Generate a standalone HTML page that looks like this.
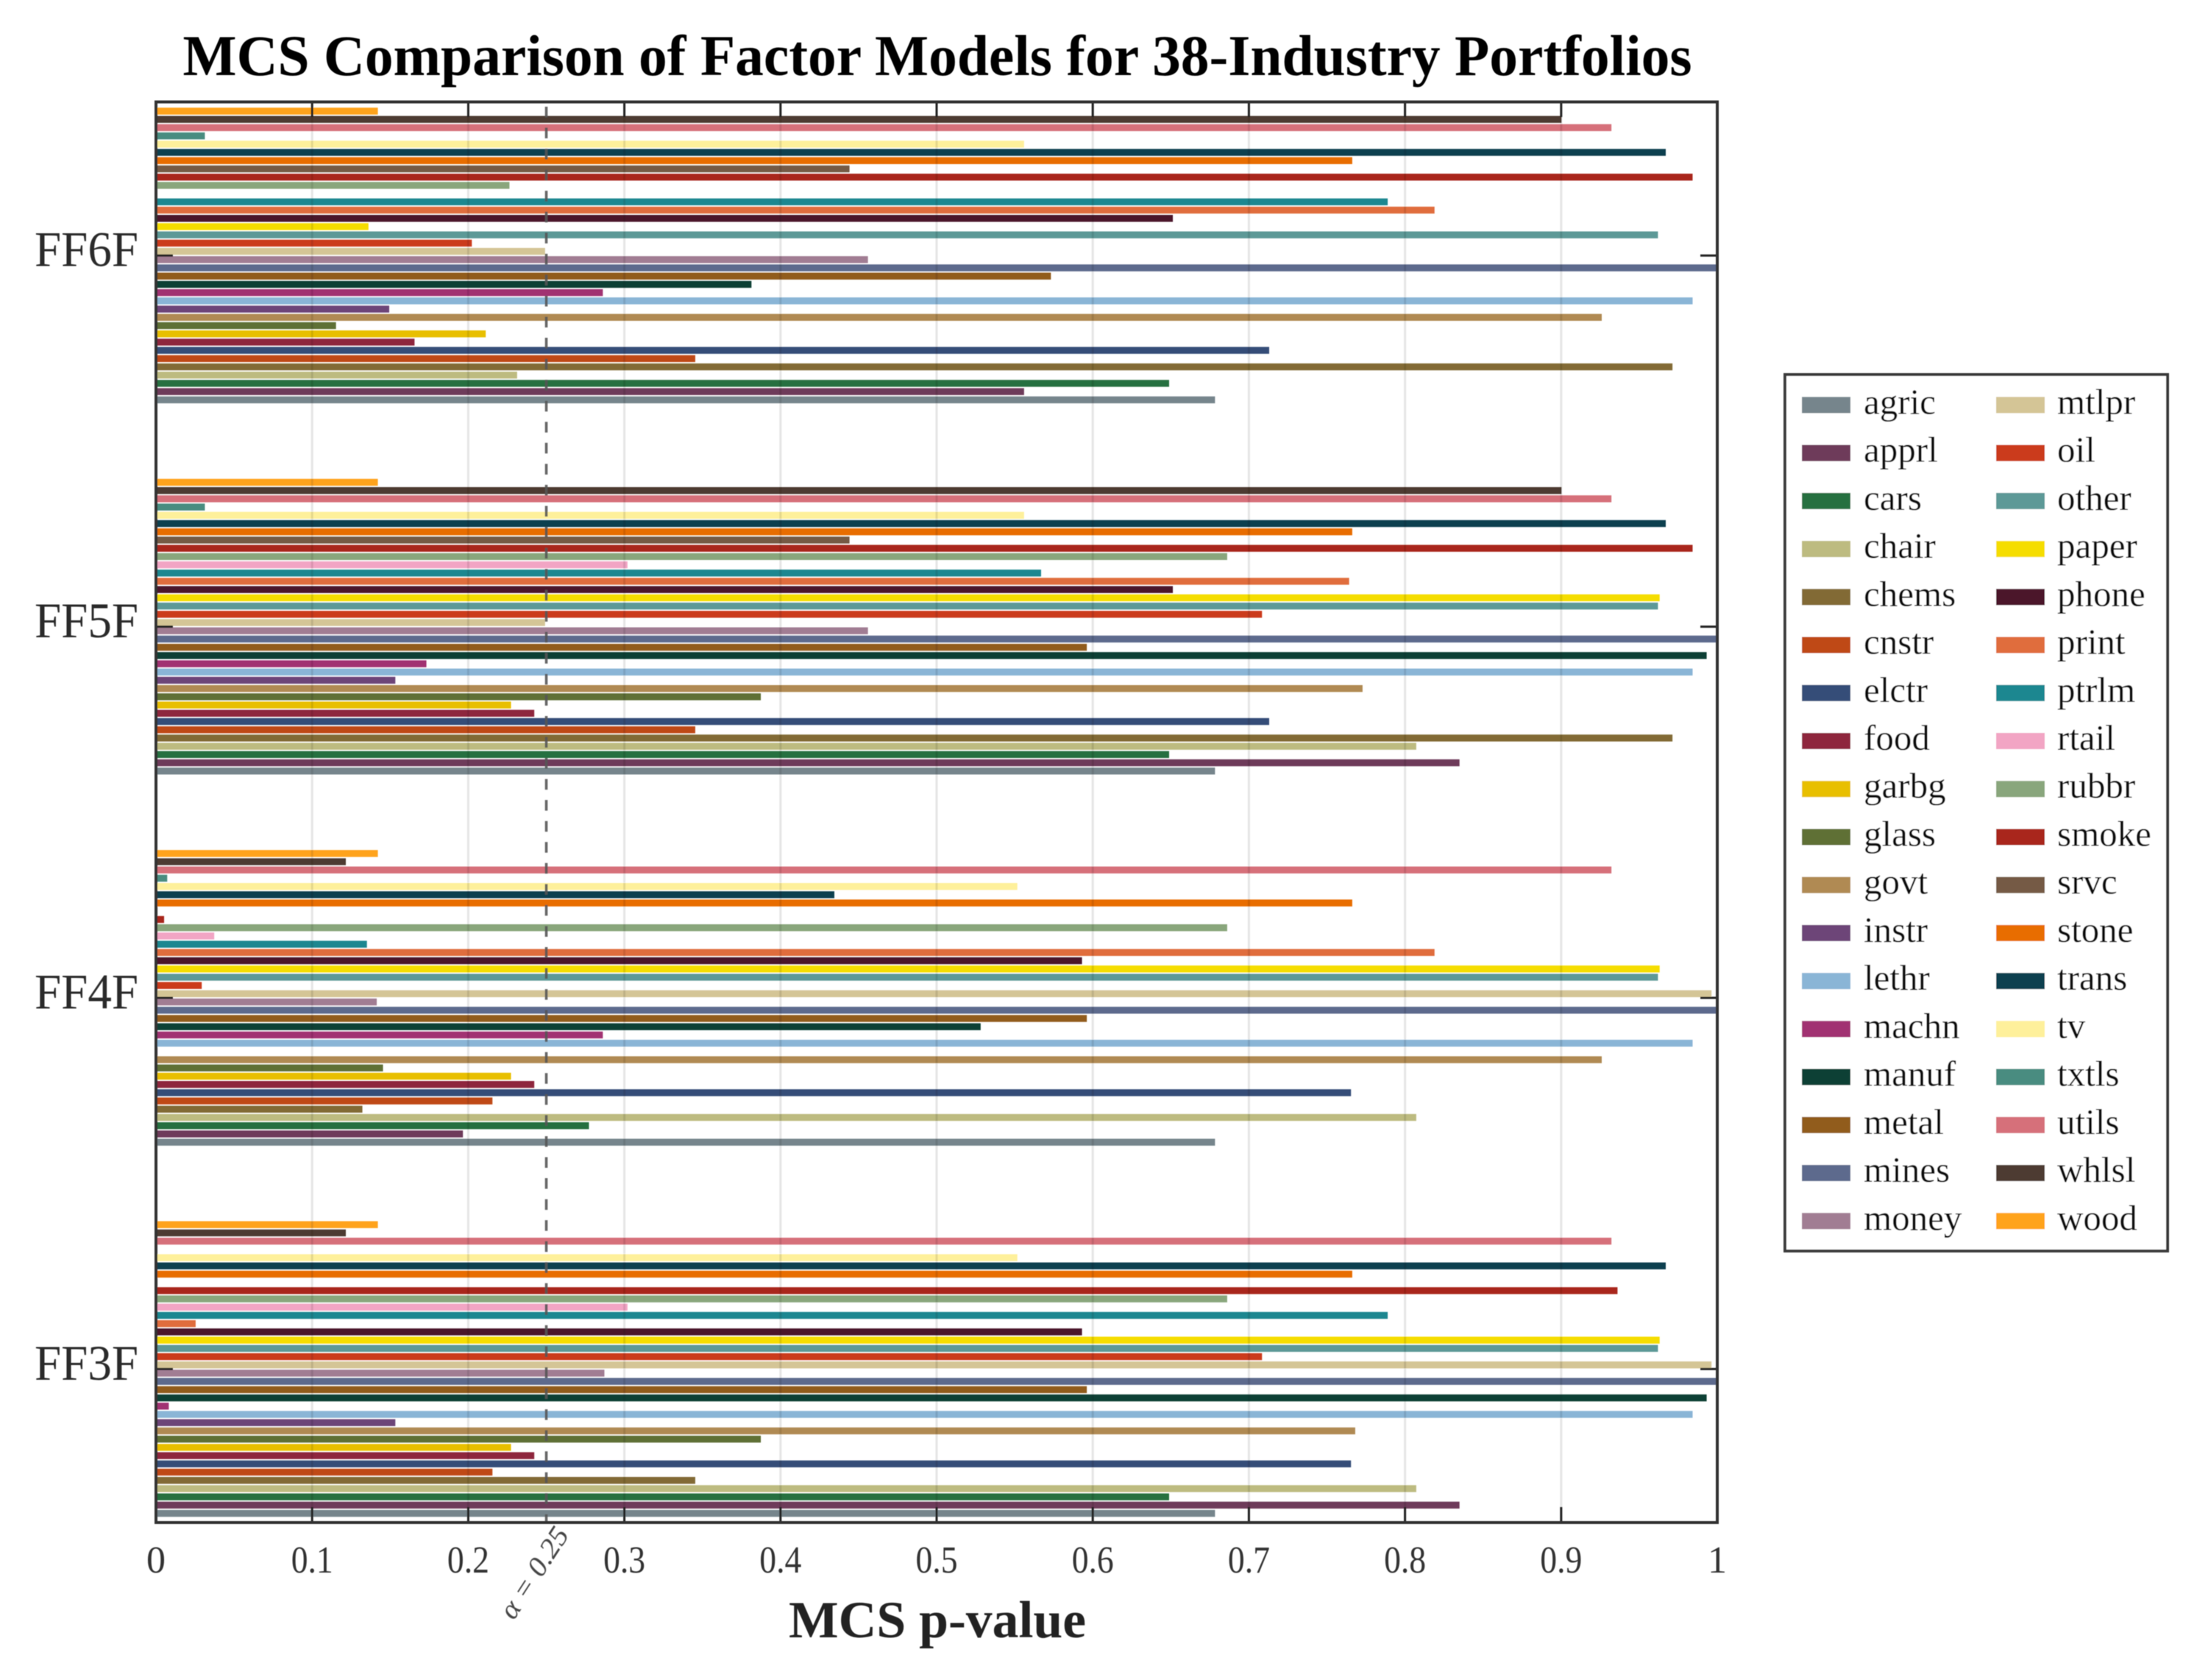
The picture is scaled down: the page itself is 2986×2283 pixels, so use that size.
<!DOCTYPE html>
<html lang="en">
<head>
<meta charset="utf-8">
<title>MCS Comparison of Factor Models for 38-Industry Portfolios</title>
<style>
html,body{margin:0;padding:0;background:#fff;}
svg{display:block;}
text{font-family:"Liberation Serif",serif;}
.c-agric{fill:#76858c}.c-apprl{fill:#6e3b5a}.c-cars{fill:#27703f}.c-chair{fill:#bdbb80}
.c-chems{fill:#826b34}.c-cnstr{fill:#bf4a18}.c-elctr{fill:#364d78}.c-food{fill:#8e283e}
.c-garbg{fill:#e8bf00}.c-glass{fill:#5e7036}.c-govt{fill:#b08a52}.c-instr{fill:#6d4478}
.c-lethr{fill:#8ab5d6}.c-machn{fill:#a13072}.c-manuf{fill:#0f4136}.c-metal{fill:#915b1f}
.c-mines{fill:#5d6a8d}.c-money{fill:#a17d93}.c-mtlpr{fill:#d4c596}.c-oil{fill:#cb3a1d}
.c-other{fill:#5d9997}.c-paper{fill:#f5dd05}.c-phone{fill:#4b162c}.c-print{fill:#e06d3d}
.c-ptrlm{fill:#1f8790}.c-rtail{fill:#f2a5c4}.c-rubbr{fill:#89a67c}.c-smoke{fill:#a9281c}
.c-srvc{fill:#755a45}.c-stone{fill:#e86d00}.c-trans{fill:#0e3f50}.c-tv{fill:#fef09b}
.c-txtls{fill:#4a8c80}.c-utils{fill:#d6707a}.c-whlsl{fill:#4e3a30}.c-wood{fill:#ffa31f}
.grid{stroke:#000;stroke-opacity:.1;stroke-width:3;}
.tick{stroke:#222;stroke-width:3;}
.tick-label{font-size:52px;fill:#333;text-anchor:middle;}
.model-label{font-size:68px;fill:#2b2b2b;text-anchor:end;}
.legend-label{font-size:49px;fill:#0a0a0a;}
</style>
</head>
<body>
<svg id="chart" xmlns="http://www.w3.org/2000/svg" width="2986" height="2283" viewBox="0 0 2986 2283">
  <defs>
    <filter id="soft" filterUnits="userSpaceOnUse" x="0" y="0" width="2986" height="2283">
      <feGaussianBlur stdDeviation="0.6"/>
    </filter>
  </defs>
  <rect x="0" y="0" width="2986" height="2283" fill="#fff"/>
  <g id="root" filter="url(#soft)">
    <text x="1274" y="102" text-anchor="middle" font-size="78" font-weight="bold" fill="#000" textLength="2051" lengthAdjust="spacingAndGlyphs">MCS Comparison of Factor Models for 38-Industry Portfolios</text>
    <g id="bars"></g>
    <g id="grid"></g>
    <line id="alpha-line" stroke="#555" stroke-opacity=".9" stroke-width="3.6" stroke-dasharray="14.5 14.05"/>
    <g id="ticks"></g>
    <rect x="212" y="138.5" width="2122" height="1930.5" fill="none" stroke="#333" stroke-width="4"/>
    <g id="xlabels"></g>
    <g id="ylabels"></g>
    <text transform="translate(727 2138) rotate(-57)" y="11" text-anchor="middle" font-size="38" font-style="italic" fill="#444" textLength="140" lengthAdjust="spacingAndGlyphs">α = 0.25</text>
    <text x="1274" y="2225" text-anchor="middle" font-size="71" font-weight="bold" fill="#222" textLength="404" lengthAdjust="spacingAndGlyphs">MCS p-value</text>
    <g>
      <rect x="2426" y="509" width="520" height="1191" fill="#fff" stroke="#3a3a3a" stroke-width="4"/>
      <g id="legend-items"></g>
    </g>
  </g>
</svg>
<script>
const categories = ["agric","apprl","cars","chair","chems","cnstr","elctr","food","garbg","glass","govt","instr","lethr","machn","manuf","metal","mines","money","mtlpr","oil","other","paper","phone","print","ptrlm","rtail","rubbr","smoke","srvc","stone","trans","tv","txtls","utils","whlsl","wood"];
const models = ["FF3F","FF4F","FF5F","FF6F"];
const ff3fValues = [0.6783,0.8349,0.6489,0.8072,0.3454,0.2155,0.7654,0.2423,0.2274,0.3874,0.7681,0.1533,0.9842,0.0082,0.9932,0.5962,1,0.2872,0.9963,0.7084,0.962,0.9631,0.5931,0.0254,0.7889,0.302,0.6861,0.9361,0.001,0.7662,0.967,0.5517,0,0.9322,0.1216,0.1421];
const ff4fValues = [0.6783,0.1966,0.2773,0.8072,0.1322,0.2155,0.7654,0.2423,0.2274,0.1454,0.926,0.001,0.9842,0.2862,0.5282,0.5962,1,0.1414,0.9963,0.0293,0.962,0.9631,0.5931,0.8189,0.1351,0.0373,0.6861,0.0052,0.001,0.7662,0.4345,0.5517,0.0072,0.9322,0.1216,0.1421];
const ff5fValues = [0.6783,0.8349,0.6489,0.8072,0.9713,0.3454,0.713,0.2423,0.2274,0.3874,0.7728,0.1533,0.9842,0.1732,0.9932,0.5962,1,0.456,0.2492,0.7084,0.962,0.9631,0.6513,0.7642,0.5669,0.302,0.6861,0.9842,0.4442,0.7662,0.967,0.556,0.0313,0.9322,0.9002,0.1421];
const ff6fValues = [0.6783,0.556,0.6489,0.2313,0.9713,0.3454,0.713,0.1656,0.2112,0.1153,0.926,0.1494,0.9842,0.2862,0.3814,0.5732,1,0.456,0.2492,0.2023,0.962,0.1361,0.6513,0.8189,0.7889,0,0.2264,0.9842,0.4442,0.7662,0.967,0.556,0.0313,0.9322,0.9002,0.1421];
const modelValues = [ff3fValues,ff4fValues,ff5fValues,ff6fValues];
const xTicks = [0,0.1,0.2,0.3,0.4,0.5,0.6,0.7,0.8,0.9,1];
const alphaLevel = 0.25;

const NS = "http://www.w3.org/2000/svg";
const plotLeft = 212, plotRight = 2334, plotTop = 138, plotBottom = 2069;
const firstGroupCenter = 1860.4, groupStep = 504.4, barStep = 11.21, barHeight = 9.4;

function xScale(v){ return plotLeft + v * (plotRight - plotLeft); }
function groupY(g){ return firstGroupCenter - g * groupStep; }
function barY(g, c){ return groupY(g) - (c - (categories.length - 1) / 2) * barStep; }
function make(tag, attrs, parent){
  const el = document.createElementNS(NS, tag);
  for (const k in attrs) el.setAttribute(k, attrs[k]);
  parent.appendChild(el);
  return el;
}

const barsG = document.getElementById("bars");
modelValues.forEach(function(vals, g){
  vals.forEach(function(v, c){
    const bar = make("rect", {x: plotLeft, y: barY(g, c) - barHeight / 2, width: Math.max(0, xScale(v) - plotLeft), height: barHeight, "class": "c-" + categories[c]}, barsG);
    
    
  });
});

const gridG = document.getElementById("grid");
const ticksG = document.getElementById("ticks");
const xLabG = document.getElementById("xlabels");
xTicks.forEach(function(t){
  if (t > 0 && t < 1) {
    const gl = make("line", {x1: xScale(t), x2: xScale(t), y1: plotTop, y2: plotBottom, "class": "grid"}, gridG);
    
    
    const tt = make("line", {x1: xScale(t), x2: xScale(t), y1: plotTop, y2: plotTop + 21, "class": "tick"}, ticksG);
    
    
    const tb = make("line", {x1: xScale(t), x2: xScale(t), y1: plotBottom - 21, y2: plotBottom, "class": "tick"}, ticksG);
    
    
  }
  const lab = make("text", {x: xScale(t), y: 2137, "class": "tick-label"}, xLabG);
  lab.textContent = String(t);
  if (String(t).length > 1) {
    lab.setAttribute("textLength", "57");
    lab.setAttribute("lengthAdjust", "spacingAndGlyphs");
  }
  
  
});

const yLabG = document.getElementById("ylabels");
models.forEach(function(m, g){
  const tl = make("line", {x1: plotLeft, x2: plotLeft + 23, y1: groupY(g), y2: groupY(g), "class": "tick"}, ticksG);
  
  
  const tr = make("line", {x1: plotRight - 23, x2: plotRight, y1: groupY(g), y2: groupY(g), "class": "tick"}, ticksG);
  
  
  const lab = make("text", {x: 188, y: groupY(g) + 14.5, "class": "model-label", textLength: 141, lengthAdjust: "spacingAndGlyphs"}, yLabG);
  lab.textContent = m;
  
  
});

const alphaLine = document.getElementById("alpha-line");
alphaLine.setAttribute("x1", xScale(alphaLevel));
alphaLine.setAttribute("x2", xScale(alphaLevel));
alphaLine.setAttribute("y1", 145);
alphaLine.setAttribute("y2", plotBottom);

const legendG = document.getElementById("legend-items");
const perColumn = 18;
categories.forEach(function(name, i){
  const col = Math.floor(i / perColumn), row = i % perColumn;
  const cy = 550.4 + row * 65.23;
  const swatch = make("rect", {x: col ? 2713 : 2449, y: cy - 11, width: 66, height: 22, "class": "c-" + name}, legendG);
  
  
  const lab = make("text", {x: col ? 2796 : 2533, y: cy + 12, "class": "legend-label"}, legendG);
  lab.textContent = name;
  
  
});
</script>
</body>
</html>
